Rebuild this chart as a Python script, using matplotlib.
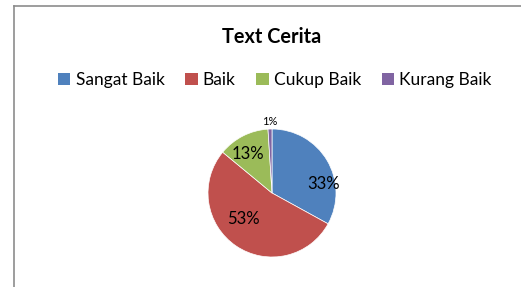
import matplotlib
matplotlib.use("Agg")
import matplotlib.pyplot as plt
from matplotlib.patches import Patch
from matplotlib.lines import Line2D

# data
categories = ["Sangat Baik", "Baik", "Cukup Baik", "Kurang Baik"]
values = [33, 53, 13, 1]
colors = ["#4F81BD", "#C0504D", "#9BBB59", "#8064A2"]
title = "Text Cerita"

# label placement (in pie radius units) and sizes, like Excel's best fit
label_pos = [(0.81, 0.14), (-0.44, -0.41), (-0.375, 0.61), (-0.03, 1.11)]
label_size = [12, 12, 12, 8]

plt.rcParams["font.family"] = ["Lato", "DejaVu Sans"]

W, H = 521, 287
fig = plt.figure(figsize=(W / 100, H / 100), dpi=100)

# chart border (only left and top visible)
fig.add_artist(Line2D([14 / W, 14 / W], [0, 1 - 6 / H], color="#8c8c8c", lw=1.2))
fig.add_artist(Line2D([14 / W, 1], [1 - 6 / H, 1 - 6 / H], color="#8c8c8c", lw=1.2))

# pie axes: centre (272,193) px, radius 64 px
cx, cy, r = 272, 193, 64
ax = fig.add_axes([(cx - r) / W, (H - cy - r) / H, 2 * r / W, 2 * r / H])
wedges, _ = ax.pie(values, colors=colors, startangle=90, counterclock=False,
                   wedgeprops=dict(edgecolor="white", linewidth=0.5))
ax.set_xlim(-1, 1)
ax.set_ylim(-1, 1)
ax.set_aspect("equal")

for v, (x, y), s in zip(values, label_pos, label_size):
    ax.text(x, y, f"{v}%", ha="center", va="center", fontsize=s, color="black")

fig.text(272 / W, 1 - 37 / H, title, ha="center", va="center",
         fontsize=14.3, fontweight="bold")

handles = [Patch(facecolor=c, edgecolor="none") for c in colors]
fig.legend(handles, categories, loc="center", bbox_to_anchor=(275 / W, 1 - 80 / H),
           ncol=4, frameon=False, fontsize=12.5, handlelength=0.7, handleheight=0.7,
           handletextpad=0.3, columnspacing=1.2)

fig.savefig("out.png", dpi=100)
